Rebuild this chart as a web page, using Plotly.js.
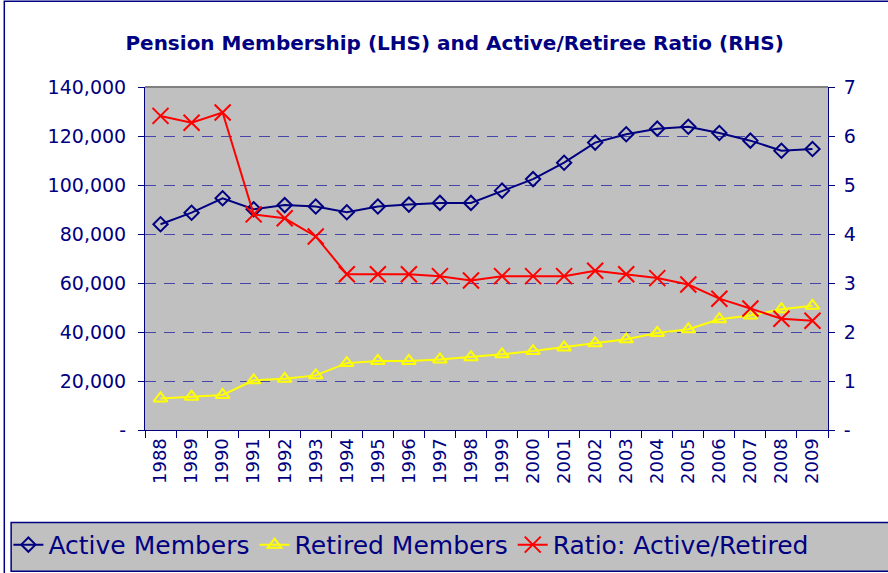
<!DOCTYPE html>
<html>
<head>
<meta charset="utf-8">
<script src="https://cdn.plot.ly/plotly-3.0.1.min.js"></script>
<style>html,body{margin:0;padding:0;background:#fff;}#chart{width:888px;height:573px;}</style>
</head>
<body>
<div id="chart"></div>
<script>
const years = ["1988","1989","1990","1991","1992","1993","1994","1995","1996","1997","1998","1999","2000","2001","2002","2003","2004","2005","2006","2007","2008","2009"];
const activeMembers = [84000,88700,94600,90100,91800,91200,88900,91200,92000,92700,92700,97700,102400,109100,117300,120700,123000,123800,121200,118100,114000,114700];
const retiredMembers = [12900,13600,14300,20300,20900,22300,27300,28200,28200,28800,29700,30900,32200,33700,35400,37000,39600,41100,45200,46700,49300,50700];
const ratioActiveRetired = [6.41,6.27,6.48,4.40,4.32,3.95,3.18,3.18,3.18,3.14,3.05,3.14,3.14,3.14,3.25,3.18,3.10,2.97,2.68,2.48,2.27,2.23];
const leftTickVals = [0,20000,40000,60000,80000,100000,120000,140000];
const leftTickText = ["-","20,000","40,000","60,000","80,000","100,000","120,000","140,000"];
const rightTickVals = [0,1,2,3,4,5,6,7];
const rightTickText = ["-","1","2","3","4","5","6","7"];

const navy = "#000080";
const fontFam = "'DejaVu Sans', 'Liberation Sans', sans-serif";

const traces = [
  {x: years, y: activeMembers, name: "Active Members", type: "scatter", mode: "lines+markers",
   line: {color: navy, width: 2}, marker: {symbol: "diamond-open", size: 11, color: navy, line: {width: 2, color: navy}}},
  {x: years, y: retiredMembers, name: "Retired Members", type: "scatter", mode: "lines+markers",
   line: {color: "#ffff00", width: 2}, marker: {symbol: "triangle-up-open", size: 12, color: "#ffff00", line: {width: 2, color: "#ffff00"}}},
  {x: years, y: ratioActiveRetired, name: "Ratio: Active/Retired", type: "scatter", mode: "lines+markers", yaxis: "y2",
   line: {color: "#ff0000", width: 2}, marker: {symbol: "x-thin-open", size: 16, color: "#ff0000", line: {width: 2, color: "#ff0000"}}}
];

const layout = {
  width: 888, height: 573,
  margin: {l: 145, r: 60, t: 87, b: 143, autoexpand: false},
  paper_bgcolor: "#ffffff",
  plot_bgcolor: "#c0c0c0",
  font: {family: fontFam, color: navy, size: 18},
  title: {text: "<b>Pension Membership (LHS) and Active/Retiree Ratio (RHS)</b>", x: 0.512, xref: "container", xanchor: "center", y: 0.925, yanchor: "middle",
          font: {family: fontFam, size: 20, color: navy}},
  showlegend: true,
  legend: {orientation: "h", x: -0.2, xref: "paper", y: -0.335, yref: "paper", yanchor: "middle", xanchor: "left",
           bgcolor: "rgba(0,0,0,0)", font: {family: fontFam, size: 25, color: navy}, itemwidth: 30, tracegroupgap: 0},
  xaxis: {type: "category", range: [-0.5, 21.5], tickangle: -90, showgrid: false, showline: true, linecolor: navy, linewidth: 1,
          ticks: "outside", tickson: "boundaries", ticklen: 7, tickcolor: navy, tickfont: {size: 18, color: navy}, zeroline: false},
  yaxis: {range: [0, 140000], tickvals: leftTickVals, ticktext: leftTickText, showline: true, linecolor: navy, linewidth: 1,
          ticks: "outside", ticklen: 6, tickcolor: navy, showgrid: true, gridcolor: "#4646a8", griddash: "11px,8px", gridwidth: 1,
          zeroline: false, tickfont: {size: 19, color: navy}, ticklabelstandoff: 8},
  yaxis2: {range: [0, 7], tickvals: rightTickVals, ticktext: rightTickText, overlaying: "y", side: "right", showline: true,
           linecolor: navy, linewidth: 1, ticks: "outside", ticklen: 6, tickcolor: navy, showgrid: false, zeroline: false,
           tickfont: {size: 19, color: navy}, ticklabelstandoff: 5},
  shapes: [
    {type: "line", xref: "paper", yref: "paper", x0: 0, x1: 1, y0: 1, y1: 1, line: {color: "#808080", width: 2}},
    {type: "rect", xref: "paper", yref: "paper", x0: -0.196, x1: 1.12, y0: -0.412, y1: -0.27, fillcolor: "#c0c0c0",
     line: {color: navy, width: 1.5}, layer: "below"},
    {type: "rect", xref: "paper", yref: "paper", x0: -0.206, x1: 1.12, y0: -0.42, y1: 1.25, fillcolor: "rgba(0,0,0,0)",
     line: {color: navy, width: 1.5}, layer: "below"}
  ]
};

Plotly.newPlot("chart", traces, layout, {displayModeBar: false, staticPlot: true});
</script>
</body>
</html>
